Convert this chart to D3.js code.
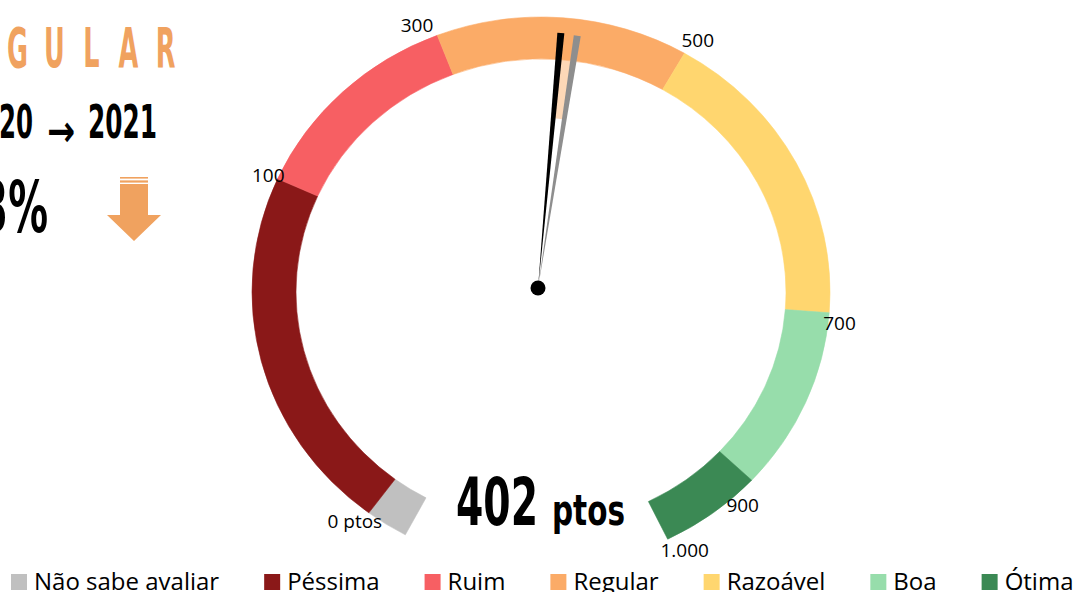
<!DOCTYPE html>
<html>
<head>
<meta charset="utf-8">
<script src="https://cdn.jsdelivr.net/npm/d3@7"></script>
<style>
  body { margin: 0; background: #fff; }
  svg { display: block; }
</style>
</head>
<body>
<svg id="chart" width="1088" height="592"></svg>
<script>
// share of answers (%) for each rating band, in gauge order
var categories = ["Não sabe avaliar", "Péssima", "Ruim", "Regular", "Razoável", "Boa", "Ótima"];
var shares = [2.8, 25.4, 14.6, 16.6, 21.1, 12.7, 6.8];
var colors = ["#c0c0c0", "#8a1818", "#f75f63", "#fbab67", "#ffd66f", "#97ddab", "#3b8954"];

// score scale (band boundaries)
var tickValues = [0, 100, 300, 500, 700, 900, 1000];
var tickLabels = ["0 ptos", "100", "300", "500", "700", "900", "1.000"];

var years = ["2020", "2021"];
var scores = [416, 402];           // 2020, 2021
var ratingLabel = "REGULAR";
var changeLabel = "-3%";

var svg = d3.select("#chart");
var condensed = "'Liberation Sans Narrow', 'DejaVu Sans Condensed', 'Roboto Condensed', sans-serif";
var bodyFont = "'Open Sans', 'Noto Sans', sans-serif";
var orange = "#f0a25f";

// ---- gauge geometry (Excel doughnut is slightly squashed vertically)
var cx = 541, cy = 292;
var rOuter = 289, rInner = 245;
var squash = 275 / 289;
var arcStart = -152 * Math.PI / 180,
    arcEnd = 154 * Math.PI / 180;
var pivot = [-3, -4.2];

var pie = d3.pie().sort(null).startAngle(arcStart).endAngle(arcEnd);
var slices = pie(shares);
var bandArc = d3.arc().innerRadius(rInner).outerRadius(rOuter);

// value -> angle, piecewise over the band boundaries (band 0 is "não sabe")
var angle = d3.scaleLinear()
    .domain(tickValues)
    .range([slices[1].startAngle].concat(slices.slice(1).map(function(d){ return d.endAngle; })));

var gauge = svg.append("g")
    .attr("transform", "translate(" + cx + "," + cy + ") scale(1," + squash + ")");
var pivotT = "translate(" + pivot[0] + "," + pivot[1] + ")";

// light wedge between last year's and this year's needle
gauge.append("path")
    .attr("transform", pivotT)
    .attr("d", d3.arc()
        .innerRadius(179).outerRadius(rInner)
        .startAngle(angle(scores[1])).endAngle(angle(scores[0]))())
    .attr("fill", "#fdd8b7");

gauge.selectAll("path.band")
  .data(slices)
  .join("path")
    .attr("class", "band")
    .attr("d", bandArc)
    .attr("fill", function(d, i){ return colors[i]; })
    .attr("stroke", function(d, i){ return colors[i]; })
    .attr("stroke-width", 0.6);

function needlePath(a, len, w) {
  var tx = len * Math.sin(a), ty = -len * Math.cos(a);
  var px = Math.cos(a) * w / 2, py = Math.sin(a) * w / 2;
  return "M0,0L" + (tx - px) + "," + (ty - py) + "L" + (tx + px) + "," + (ty + py) + "Z";
}

var needleG = gauge.append("g").attr("transform", pivotT);
needleG.append("path")
    .attr("d", needlePath(angle(scores[0]), 268, 7))
    .attr("fill", "#8e8e8e");
needleG.append("path")
    .attr("d", needlePath(angle(scores[1]), 269, 7))
    .attr("fill", "#000");
needleG.append("ellipse")
    .attr("rx", 7.5).attr("ry", 7.5 / squash)
    .attr("fill", "#000");

// ---- tick labels at band boundaries
var labelPlace = [
  {anchor: "middle", dx: -14, dy: 15},
  {anchor: "end",    dx: 7,   dy: 3},
  {anchor: "end",    dx: -4,  dy: -3},
  {anchor: "start",  dx: -3,  dy: -6},
  {anchor: "start",  dx: -6,  dy: 17},
  {anchor: "middle", dx: -9,  dy: 32},
  {anchor: "middle", dx: 17,  dy: 17.5}
];

svg.append("g").selectAll("text")
  .data(tickValues)
  .join("text")
    .attr("x", function(v, i){ return cx + rOuter * Math.sin(angle(v)) + labelPlace[i].dx; })
    .attr("y", function(v, i){ return cy - rOuter * Math.cos(angle(v)) * squash + labelPlace[i].dy; })
    .attr("text-anchor", function(v, i){ return labelPlace[i].anchor; })
    .attr("font-family", bodyFont)
    .attr("font-size", 19)
    .attr("fill", "#000")
    .text(function(v, i){ return tickLabels[i]; });

// ---- score in the gap
svg.append("text")
    .attr("x", 456).attr("y", 525)
    .attr("font-family", condensed).attr("font-weight", "bold").attr("font-size", 65)
    .attr("textLength", 82).attr("lengthAdjust", "spacingAndGlyphs")
    .text(d3.format("d")(scores[1]));
svg.append("text")
    .attr("x", 552).attr("y", 525)
    .attr("font-family", condensed).attr("font-weight", "bold").attr("font-size", 42)
    .attr("textLength", 73).attr("lengthAdjust", "spacingAndGlyphs")
    .text("ptos");

// ---- left panel (cut off by the crop)
// spaced-out narrow capitals: one glyph every 37px, "G" centred at x = 17.5
var pitch = 37, gCentre = 17.5, letterW = 21;
var titleG = svg.append("g").attr("transform", "translate(0,67)");
var title = titleG.append("text")
    .attr("font-family", condensed).attr("font-weight", "bold").attr("font-size", 55)
    .attr("fill", orange)
    .attr("text-anchor", "middle")
    .text(ratingLabel);
(function(){
  var gw = title.node().getExtentOfChar(2).width;
  var sx = letterW / gw;
  titleG.attr("transform", "translate(0,67) scale(" + sx + ",1)");
  title.attr("x", ratingLabel.split("").map(function(c, i){
    return ((gCentre + (i - 2) * pitch) / sx).toFixed(1);
  }).join(" "));
})();

svg.append("text")
    .attr("x", -35).attr("y", 138)
    .attr("font-family", condensed).attr("font-weight", "bold").attr("font-size", 46)
    .attr("textLength", 68).attr("lengthAdjust", "spacingAndGlyphs")
    .text(years[0]);
svg.append("text")
    .attr("x", 47).attr("y", 146)
    .attr("font-family", "'DejaVu Sans', sans-serif").attr("font-weight", "bold").attr("font-size", 44)
    .attr("textLength", 28).attr("lengthAdjust", "spacingAndGlyphs")
    .text("→");
svg.append("text")
    .attr("x", 88).attr("y", 138)
    .attr("font-family", condensed).attr("font-weight", "bold").attr("font-size", 46)
    .attr("textLength", 69).attr("lengthAdjust", "spacingAndGlyphs")
    .text(years[1]);

svg.append("text")
    .attr("x", -36).attr("y", 232)
    .attr("font-family", condensed).attr("font-weight", "bold").attr("font-size", 72)
    .attr("textLength", 84).attr("lengthAdjust", "spacingAndGlyphs")
    .text(changeLabel);

// down arrow with stripes
var ax = 134, ay = 177;
var arrow = svg.append("g").attr("fill", orange);
arrow.append("rect").attr("x", ax - 14).attr("y", ay).attr("width", 28).attr("height", 1.6);
arrow.append("rect").attr("x", ax - 14).attr("y", ay + 3.4).attr("width", 28).attr("height", 2.2);
arrow.append("path")
    .attr("d", "M" + (ax - 14) + "," + (ay + 7) + "H" + (ax + 14) + "V" + (ay + 38) +
               "H" + (ax + 27) + "L" + ax + "," + (ay + 64) + "L" + (ax - 27) + "," + (ay + 38) +
               "H" + (ax - 14) + "Z");

// ---- legend
var legend = svg.append("g").attr("transform", "translate(11,574)");
var xpos = 0;
categories.forEach(function(c, i){
  var item = legend.append("g").attr("transform", "translate(" + xpos + ",0)");
  item.append("rect").attr("width", 16).attr("height", 16).attr("fill", colors[i]);
  var t = item.append("text")
      .attr("x", 23).attr("y", 16)
      .attr("font-family", bodyFont).attr("font-size", 24)
      .attr("fill", "#000")
      .text(c);
  xpos += 23 + t.node().getComputedTextLength() + 45;
});
</script>
</body>
</html>
